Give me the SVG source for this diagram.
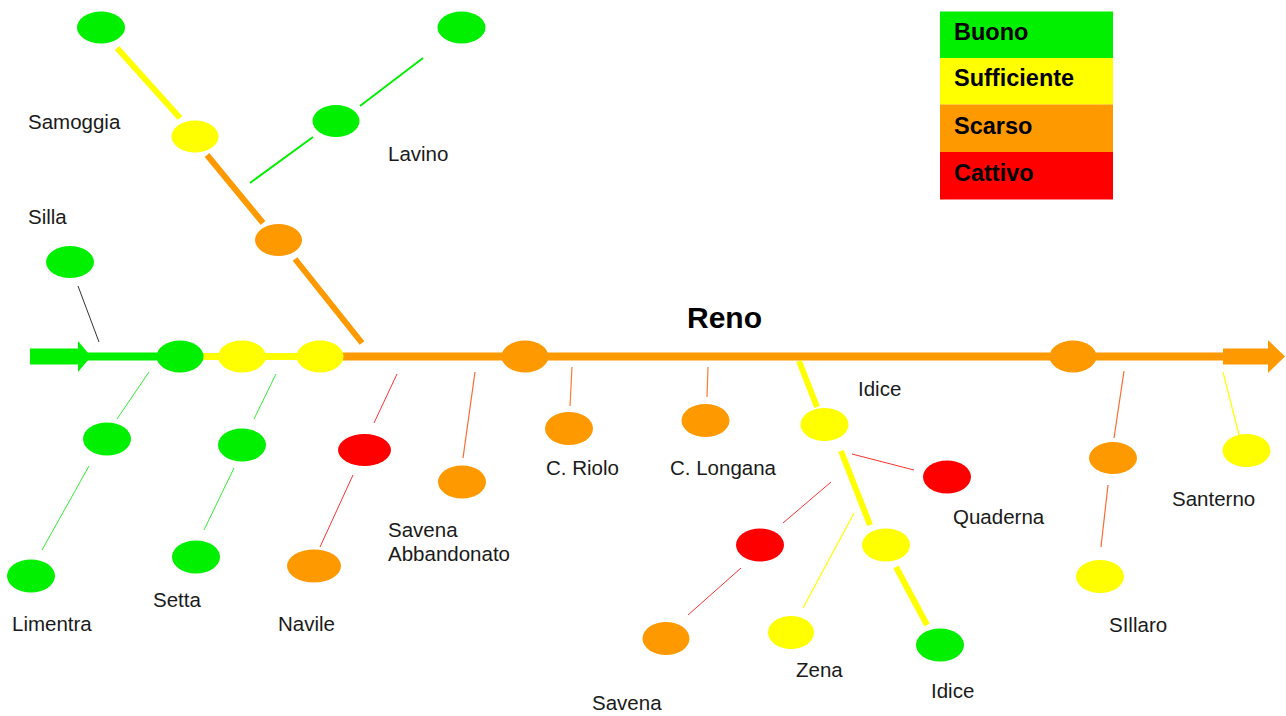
<svg xmlns="http://www.w3.org/2000/svg" width="1286" height="716" viewBox="0 0 1286 716">
<style>
.g{fill:#00F000}.y{fill:#FFFF00}.o{fill:#FF9900}.r{fill:#FF0000}
.lbl{font-family:"Liberation Sans",Arial,sans-serif;font-size:20.5px;fill:#1a1a1a}
.leg{font-family:"Liberation Sans",Arial,sans-serif;font-size:23.5px;font-weight:bold;fill:#000}
.thick{fill:none;stroke-linecap:butt}
</style>
<rect width="1286" height="716" fill="#fff"/>
<g id="connectors" fill="none">
  <!-- main river -->
  <line x1="86" y1="356.5" x2="165" y2="356.5" stroke="#00F000" stroke-width="8"/>
  <line x1="195" y1="356.5" x2="330" y2="356.5" stroke="#FFFF00" stroke-width="7"/>
  <line x1="340" y1="356.5" x2="1226" y2="356.5" stroke="#FF9900" stroke-width="8"/>
  <polygon points="30,348.5 78,348.5 78,341 91,356.5 78,372 78,364.5 30,364.5" fill="#00F000"/>
  <polygon points="1223,348.5 1268,348.5 1268,340 1285,356.5 1268,373 1268,364.5 1223,364.5" fill="#FF9900"/>
  <!-- Samoggia -->
  <line x1="117" y1="48" x2="180" y2="118" stroke="#FFFF00" stroke-width="6"/>
  <line x1="207" y1="155" x2="263" y2="223" stroke="#FF9900" stroke-width="6"/>
  <line x1="295" y1="259" x2="362" y2="343" stroke="#FF9900" stroke-width="6"/>
  <!-- Lavino -->
  <line x1="250" y1="183" x2="313" y2="137" stroke="#00F000" stroke-width="2"/>
  <line x1="360" y1="106" x2="423" y2="58" stroke="#00F000" stroke-width="2"/>
  <!-- Silla -->
  <line x1="78" y1="286" x2="99" y2="342" stroke="#333" stroke-width="1"/>
  <!-- Limentra -->
  <line x1="149" y1="372" x2="117" y2="419" stroke="#33F033" stroke-width="1"/>
  <line x1="89" y1="466" x2="42" y2="550" stroke="#33F033" stroke-width="1"/>
  <!-- Setta -->
  <line x1="276" y1="374" x2="254" y2="419" stroke="#33F033" stroke-width="1"/>
  <line x1="234" y1="468" x2="204" y2="530" stroke="#33F033" stroke-width="1"/>
  <!-- Navile -->
  <line x1="397" y1="374" x2="374" y2="423" stroke="#FF3333" stroke-width="1"/>
  <line x1="353" y1="475" x2="320" y2="547" stroke="#FF3333" stroke-width="1"/>
  <!-- Savena Abbandonato -->
  <line x1="475" y1="372" x2="463" y2="458" stroke="#FF6A33" stroke-width="1.2"/>
  <!-- C. Riolo / C. Longana -->
  <line x1="572" y1="367" x2="570" y2="406" stroke="#FF7A33" stroke-width="1.2"/>
  <line x1="708" y1="367" x2="707" y2="397" stroke="#FF7A33" stroke-width="1.2"/>
  <!-- Idice -->
  <line x1="799" y1="361" x2="817" y2="407" stroke="#FFFF00" stroke-width="6"/>
  <line x1="841" y1="451" x2="870" y2="525" stroke="#FFFF00" stroke-width="6"/>
  <line x1="896" y1="567" x2="927" y2="625" stroke="#FFFF00" stroke-width="6"/>
  <!-- Quaderna -->
  <line x1="852" y1="454" x2="914" y2="470" stroke="#FF3333" stroke-width="1"/>
  <!-- Savena -->
  <line x1="831" y1="482" x2="783" y2="523" stroke="#FF3333" stroke-width="1"/>
  <line x1="741" y1="568" x2="688" y2="615" stroke="#FF3333" stroke-width="1"/>
  <!-- Zena -->
  <line x1="854" y1="513" x2="803" y2="608" stroke="#FFFF00" stroke-width="1.2"/>
  <!-- Sillaro -->
  <line x1="1124" y1="371" x2="1114" y2="438" stroke="#FF6A33" stroke-width="1.2"/>
  <line x1="1108" y1="485" x2="1101" y2="547" stroke="#FF6A33" stroke-width="1.2"/>
  <!-- Santerno -->
  <line x1="1223" y1="372" x2="1239" y2="435" stroke="#FFFF00" stroke-width="1.2"/>
</g>
<g id="reno">
  <ellipse class="g" cx="180" cy="356.5" rx="23.5" ry="16"/>
  <ellipse class="y" cx="242" cy="356.5" rx="24" ry="16"/>
  <ellipse class="y" cx="320" cy="356.5" rx="23.5" ry="16"/>
  <ellipse class="o" cx="525" cy="356.5" rx="23.5" ry="16"/>
  <ellipse class="o" cx="1073" cy="356.5" rx="23.5" ry="16"/>
  <text x="687" y="328" style="font-family:'Liberation Sans',Arial,sans-serif;font-size:30px;font-weight:bold;fill:#000">Reno</text>
</g>
<g id="samoggia">
  <ellipse class="g" cx="101" cy="27.5" rx="24" ry="16"/>
  <ellipse class="y" cx="195" cy="136.5" rx="23.5" ry="16"/>
  <ellipse class="o" cx="278.5" cy="240" rx="23.5" ry="16"/>
  <text class="lbl" x="28" y="129">Samoggia</text>
</g>
<g id="lavino">
  <ellipse class="g" cx="461.5" cy="27.5" rx="24" ry="16"/>
  <ellipse class="g" cx="336" cy="121" rx="23.5" ry="16"/>
  <text class="lbl" x="388" y="160.5">Lavino</text>
</g>
<g id="silla">
  <ellipse class="g" cx="70" cy="262" rx="24" ry="16"/>
  <text class="lbl" x="28" y="224">Silla</text>
</g>
<g id="limentra">
  <ellipse class="g" cx="107" cy="439" rx="24" ry="16.5"/>
  <ellipse class="g" cx="31" cy="576" rx="24" ry="16.5"/>
  <text class="lbl" x="12" y="631">Limentra</text>
</g>
<g id="setta">
  <ellipse class="g" cx="242" cy="445" rx="24" ry="16.5"/>
  <ellipse class="g" cx="196" cy="557" rx="24" ry="16.5"/>
  <text class="lbl" x="153" y="607">Setta</text>
</g>
<g id="navile">
  <ellipse class="r" cx="364.5" cy="450" rx="26.5" ry="16"/>
  <ellipse class="o" cx="314" cy="566" rx="27" ry="16.5"/>
  <text class="lbl" x="278" y="631">Navile</text>
</g>
<g id="savena-abbandonato">
  <ellipse class="o" cx="462" cy="482" rx="24" ry="16.5"/>
  <text class="lbl" x="388" y="537">Savena</text>
  <text class="lbl" x="388" y="561">Abbandonato</text>
</g>
<g id="c-riolo">
  <ellipse class="o" cx="569" cy="428.5" rx="24" ry="16.5"/>
  <text class="lbl" x="546" y="475">C. Riolo</text>
</g>
<g id="c-longana">
  <ellipse class="o" cx="705.5" cy="420.5" rx="24" ry="16.5"/>
  <text class="lbl" x="670" y="475">C. Longana</text>
</g>
<g id="idice">
  <ellipse class="y" cx="824.5" cy="424.5" rx="24" ry="16.5"/>
  <ellipse class="y" cx="886" cy="545" rx="24" ry="16.5"/>
  <ellipse class="g" cx="940" cy="645" rx="24" ry="16.5"/>
  <text class="lbl" x="858" y="396">Idice</text>
  <text class="lbl" x="931" y="698">Idice</text>
</g>
<g id="quaderna">
  <ellipse class="r" cx="947" cy="477" rx="24" ry="16.5"/>
  <text class="lbl" x="953" y="524">Quaderna</text>
</g>
<g id="savena">
  <ellipse class="r" cx="760" cy="545" rx="24" ry="16.5"/>
  <ellipse class="o" cx="666" cy="638.5" rx="23.5" ry="16.5"/>
  <text class="lbl" x="592" y="710">Savena</text>
</g>
<g id="zena">
  <ellipse class="y" cx="791" cy="632.5" rx="23" ry="16.5"/>
  <text class="lbl" x="796" y="677">Zena</text>
</g>
<g id="sillaro">
  <ellipse class="o" cx="1113" cy="458" rx="24" ry="16"/>
  <ellipse class="y" cx="1100" cy="576.5" rx="24" ry="16.5"/>
  <text class="lbl" x="1109" y="632">SIllaro</text>
</g>
<g id="santerno">
  <ellipse class="y" cx="1246.5" cy="450.5" rx="24" ry="16.5"/>
  <text class="lbl" x="1172" y="506">Santerno</text>
</g>
<g id="legend">
  <rect x="940" y="11.5" width="173" height="46.5" fill="#00F000"/>
  <rect x="940" y="58" width="173" height="46.5" fill="#FFFF00"/>
  <rect x="940" y="104.5" width="173" height="47.5" fill="#FF9900"/>
  <rect x="940" y="152" width="173" height="47.5" fill="#FF0000"/>
  <text class="leg" x="954" y="40">Buono</text>
  <text class="leg" x="954" y="86">Sufficiente</text>
  <text class="leg" x="954" y="133.5">Scarso</text>
  <text class="leg" x="954" y="180.5">Cattivo</text>
</g>
</svg>
